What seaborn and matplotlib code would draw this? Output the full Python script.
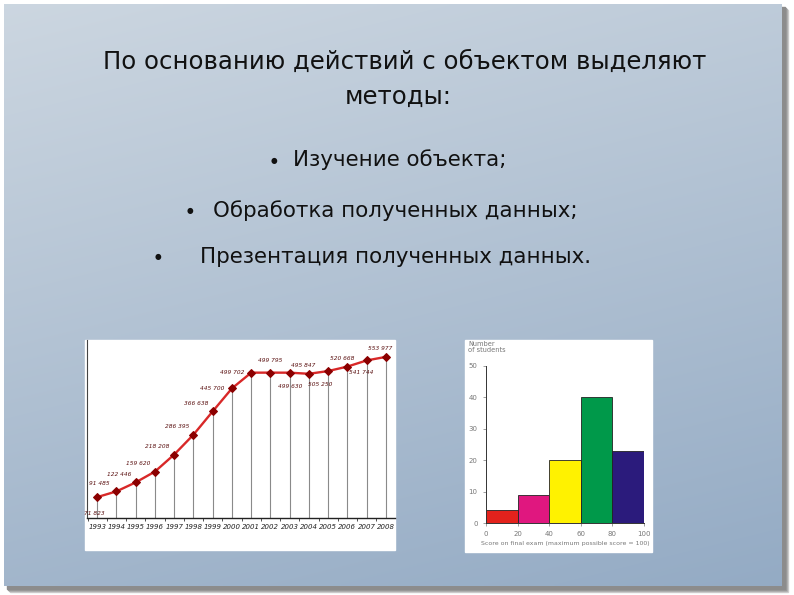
import numpy as np
import pandas as pd
import matplotlib
matplotlib.use("Agg")
import matplotlib.pyplot as plt
from matplotlib.patches import Rectangle
import seaborn as sns

# ---------------- data ----------------
title_line1 = "По основанию действий с объектом выделяют"
title_line2 = "методы:"
bullets = ["Изучение объекта;", "Обработка полученных данных;", "Презентация полученных данных."]

years = ["1993", "1994", "1995", "1996", "1997", "1998", "1999", "2000",
         "2001", "2002", "2003", "2004", "2005", "2006", "2007", "2008"]
counts = [71823, 91485, 122446, 159620, 218208, 286395, 366638, 445700,
          499702, 499795, 499630, 495847, 505250, 520668, 541744, 553977]

score_bins = [10, 30, 50, 70, 90]
students = [4, 9, 20, 40, 23]
bar_colors = ["#e3221c", "#e0177f", "#fff200", "#00994a", "#2b1b7c"]
score_ticks = [0, 20, 40, 60, 80, 100]
student_ticks = [0, 10, 20, 30, 40, 50]

# ---------------- figure ----------------
sns.set_theme(style="white")
plt.rcParams["font.family"] = ["DejaVu Sans"]
W, H = 794, 595
fig = plt.figure(figsize=(W / 100, H / 100), dpi=100)
fig.patch.set_facecolor("white")

bg = fig.add_axes([0, 0, 1, 1])
bg.set_xlim(0, W)
bg.set_ylim(H, 0)
bg.axis("off")

# soft shadow of slide
for k, c in enumerate(["#d0d0d0", "#b4b4b4", "#9a9a9a", "#8c8c8c"]):
    bg.add_patch(Rectangle((10 - k, 10 - k), 778, 582, color=c, zorder=0.1 * k))
# slide gradient
gy = np.linspace(0, 1, 200)[:, None]
gx = np.linspace(0, 1, 200)[None, :]
t = np.clip(0.75 * gy + 0.25 * gx, 0, 1)
top = np.array([0.80, 0.84, 0.88])
bot = np.array([0.58, 0.67, 0.77])
img = top[None, None, :] * (1 - t[..., None]) + bot[None, None, :] * t[..., None]
bg.imshow(img, extent=(4, 782, 586, 4), aspect="auto", zorder=1, interpolation="bilinear")
bg.set_xlim(0, W)
bg.set_ylim(H, 0)

# texts
bg.text(405, 62, title_line1, ha="center", va="center", fontsize=17.6, color="#111111", zorder=5)
bg.text(398, 97, title_line2, ha="center", va="center", fontsize=17.6, color="#111111", zorder=5)
bullet_pos = [(274, 293, 160), (190, 213, 211), (158, 200, 257)]
for (bx, tx, ty), s in zip(bullet_pos, bullets):
    bg.text(bx, ty, "●", ha="center", va="center", fontsize=5.5, color="#111111", zorder=5)
    bg.text(tx, ty, s, ha="left", va="center", fontsize=15.4, color="#111111", zorder=5)

# white boxes of the two pictures
bg.add_patch(Rectangle((85, 340), 310, 210, color="white", zorder=2))
bg.add_patch(Rectangle((465, 340), 187, 212, color="white", zorder=2))

# ---------------- line chart ----------------
ax1 = fig.add_axes([87 / W, 1 - 518 / H, (395 - 87) / W, (518 - 340) / H])
ax1.patch.set_alpha(0)
df = pd.DataFrame({"i": np.arange(len(years)), "year": years, "n": counts})
ax1.vlines(df["i"], 0, df["n"], color="#8a8a8a", lw=0.8, zorder=1)
sns.lineplot(data=df, x="i", y="n", ax=ax1, color="#d82828", lw=1.7,
             marker="D", markersize=4, markerfacecolor="#8b0000",
             markeredgecolor="#8b0000", zorder=3)
ax1.set_xlim(-0.53, 15.47)
ax1.set_ylim(0, 612000)
ax1.set_xticks(df["i"])
ax1.set_xticklabels(years, fontsize=5, style="italic", color="#222222")
ax1.set_xticks(np.arange(-0.5, 15.5, 1), minor=True)
ax1.tick_params(axis="x", which="major", length=0, pad=4)
ax1.tick_params(axis="x", which="minor", length=2.5, width=0.6, color="#333333", bottom=True)
ax1.set_yticks([])
ax1.set_xlabel("")
ax1.set_ylabel("")
for s in ["top", "right"]:
    ax1.spines[s].set_visible(False)
ax1.spines["left"].set_color("#444444")
ax1.spines["left"].set_linewidth(0.8)
ax1.spines["bottom"].set_color("#222222")
ax1.spines["bottom"].set_linewidth(1.0)
offsets = [(-2, -12), (-12, 6), (-12, 6), (-12, 6), (-12, 6), (-12, 6), (-12, 6), (-14, 0),
           (-14, 0), (0, 9), (0, -10), (-4, 6), (-6, -10), (-4, 6), (-4, -9), (-4, 6)]
for i, (v, off) in enumerate(zip(counts, offsets)):
    lab = f"{v:,}".replace(",", " ")
    ax1.annotate(lab, (i, v), xytext=off, textcoords="offset points", ha="center",
                 va="center", fontsize=4.2, style="italic", color="#5a1010")

# ---------------- bar chart ----------------
ax2 = fig.add_axes([486 / W, 1 - 523 / H, (644 - 486) / W, (523 - 366) / H])
ax2.patch.set_alpha(0)
bdf = pd.DataFrame({"score": score_bins, "students": students,
                    "bin": [str(b) for b in score_bins]})
sns.barplot(data=bdf, x="score", y="students", hue="bin", palette=bar_colors,
            native_scale=True, width=1, edgecolor="#222222", linewidth=0.6,
            legend=False, ax=ax2, saturation=1)
ax2.set_xlim(0, 100)
ax2.set_ylim(0, 50)
ax2.set_xticks(score_ticks)
ax2.set_xticklabels([str(v) for v in score_ticks], fontsize=5, color="#777777")
ax2.set_yticks(student_ticks)
ax2.set_yticklabels([str(v) for v in student_ticks], fontsize=5, color="#777777")
ax2.tick_params(length=2, width=0.5, color="#777777", pad=4, left=True, bottom=True)
ax2.set_xlabel("Score on final exam (maximum possible score = 100)", fontsize=4.5,
               color="#777777", labelpad=3)
ax2.set_ylabel("")
for s in ["top", "right"]:
    ax2.spines[s].set_visible(False)
for s in ["left", "bottom"]:
    ax2.spines[s].set_color("#333333")
    ax2.spines[s].set_linewidth(0.7)
bg.text(468, 341, "Number\nof students", ha="left", va="top", fontsize=4.8,
        color="#777777", zorder=5, linespacing=1.0)

fig.savefig("out.png", dpi=100)
